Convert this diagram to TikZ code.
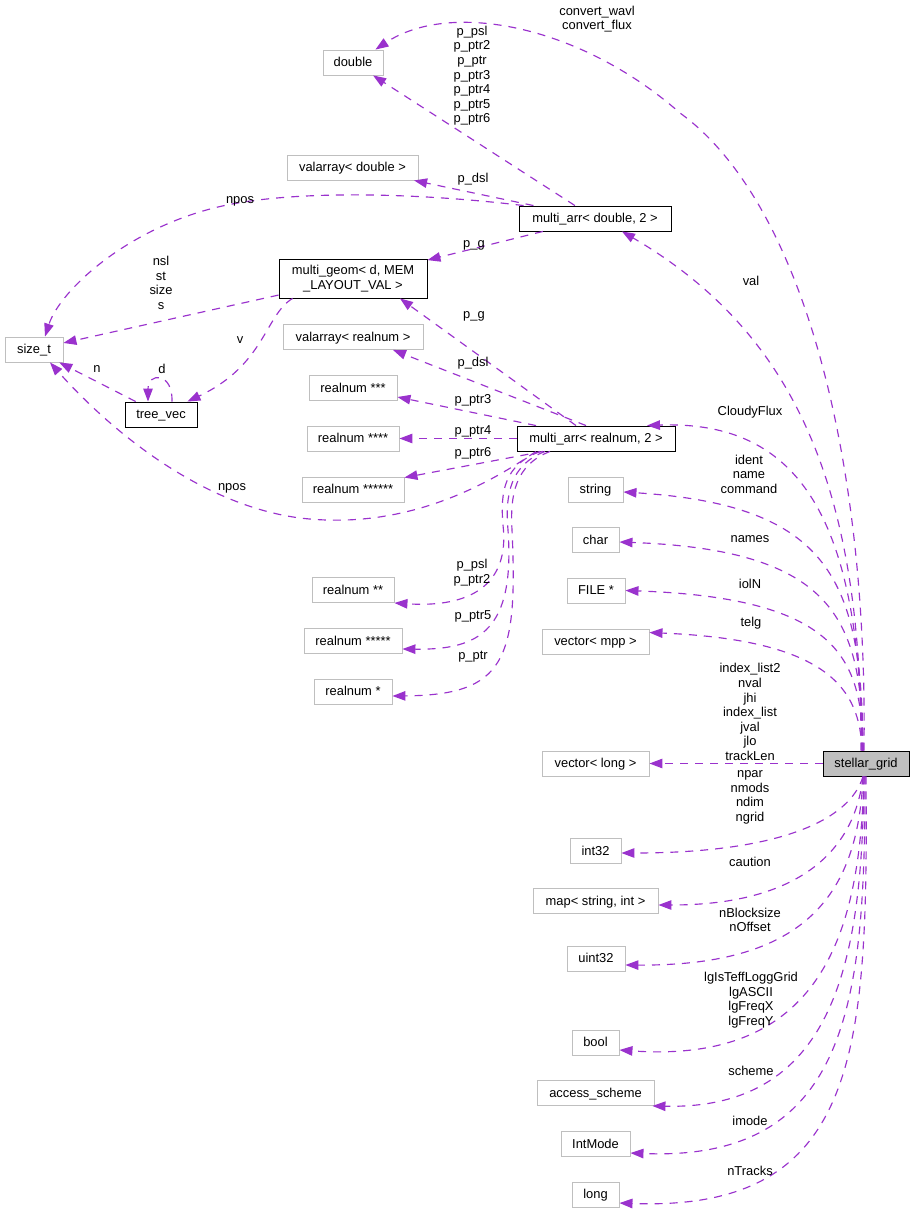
\documentclass[tikz,border=0pt]{standalone}
\usepackage{fontspec}
\setmainfont{Liberation Sans}
\usetikzlibrary{arrows.meta,calc}
\definecolor{edgec}{HTML}{9A32CD}
\definecolor{grayb}{HTML}{BFBFBF}
\begin{document}
\begin{tikzpicture}[x=1pt,y=-1pt,
  every node/.style={font=\fontsize{12.9}{14.6}\selectfont},
  box/.style={draw=grayb, line width=0.9pt, minimum height=25pt, inner sep=0pt, align=center, text height=8pt, text depth=0pt},
  dbox/.style={box, draw=black},
  sgbox/.style={dbox, fill=grayb},
  edge/.style={draw=edgec, line width=1.15pt, dash pattern=on 8pt off 7pt, -{Triangle[length=13pt,width=9.5pt,fill=edgec]}},
  lbl/.style={align=center, inner sep=0pt}]
\fill[white] (0,0) rectangle (915,1217);
\useasboundingbox (0,0) rectangle (915,1217);
% nodes
\node[box, minimum width=60pt] (dbl) at (353,62.5) {double};
\node[box, minimum width=131pt] (vad) at (352.5,167.5) {valarray< double >};
\node[dbox, minimum width=152pt] (mad) at (595,218.5) {multi\_arr< double, 2 >};
\node[draw=black, line width=0.9pt, inner sep=0pt, align=center, minimum width=148pt, minimum height=39pt] (mg) at (353,278.5) {multi\_geom< d, MEM\\\_LAYOUT\_VAL >};
\node[box, minimum width=58pt] (st) at (34,349.5) {size\_t};
\node[dbox, minimum width=72pt] (tv) at (161,414.5) {tree\_vec};
\node[box, minimum width=140pt] (var) at (353,337) {valarray< realnum >};
\node[box, minimum width=88pt] (r3) at (353,388) {realnum ***};
\node[box, minimum width=92pt] (r4) at (353,438.5) {realnum ****};
\node[dbox, minimum width=158pt] (mar) at (596,438.5) {multi\_arr< realnum, 2 >};
\node[box, minimum width=102pt] (r6) at (353,489.5) {realnum ******};
\node[box, minimum width=55pt] (str) at (595.5,489.5) {string};
\node[box, minimum width=47pt] (chr) at (595.5,540) {char};
\node[box, minimum width=58pt] (fil) at (596,590.5) {FILE *};
\node[box, minimum width=107pt] (vmpp) at (595.5,641.5) {vector< mpp >};
\node[box, minimum width=82pt] (r2) at (353,590) {realnum **};
\node[box, minimum width=98pt] (r5) at (353,641) {realnum *****};
\node[box, minimum width=78pt] (r1) at (353,691.5) {realnum *};
\node[box, minimum width=107pt] (vl) at (595.5,763.5) {vector< long >};
\node[sgbox, minimum width=86pt] (sg) at (866,763.5) {stellar\_grid};
\node[box, minimum width=51pt] (i32) at (595.5,851) {int32};
\node[box, minimum width=125pt] (map) at (595.5,901) {map< string, int >};
\node[box, minimum width=58pt] (u32) at (596,958.5) {uint32};
\node[box, minimum width=47pt] (bool) at (595.5,1042.5) {bool};
\node[box, minimum width=117pt] (acs) at (595.5,1093) {access\_scheme};
\node[box, minimum width=69pt] (imd) at (595.5,1144) {IntMode};
\node[box, minimum width=47pt] (lng) at (595.5,1194.5) {long};
% edges upper left
\draw[edge] (mad) -- (dbl);
\draw[edge] (mad) -- (vad);
\draw[edge] ($(mad.north west)+(5,0)$) .. controls (420,193) and (300,190) .. (227,205) .. controls (130,225) and (60,290) .. ($(st.north)+(11,0)$);
\draw[edge] (mad) -- (mg);
\draw[edge] (mg) -- (st);
\draw[edge] ($(mg.south west)+(14,0)$) .. controls (265,315) and (265,365) .. ($(tv.north east)+(-10,0)$);
\draw[edge] (tv) -- (st);
\draw[edge] ($(tv.north)+(11,0)$) .. controls (173,372) and (148,372) .. ($(tv.north)+(-13,0)$);
% edges from multi_arr realnum
\draw[edge] ($(mar.north)+(-20,0)$) -- ($(mg.south)+(47,0)$);
\draw[edge] ($(mar.north)+(-10,0)$) -- ($(var.south)+(40,0)$);
\draw[edge] ($(mar.north)+(-60,0)$) -- ($(r3.east)+(0,9)$);
\draw[edge] (mar) -- (r4);
\draw[edge] ($(mar.south)+(-53,0)$) -- ($(r6.north east)+(0,1)$);
\draw[edge] ($(mar.south)+(-60,0)$) .. controls (480,490) and (400,530) .. (300,518) .. controls (200,505) and (110,430) .. ($(st.south)+(16,0)$);
\draw[edge] ($(mar.south)+(-56,0)$) .. controls (505,465) and (500,490) .. (503,525) .. controls (510,585) and (470,608) .. (r2.south east);
\draw[edge] ($(mar.south)+(-51,0)$) .. controls (510,465) and (505,495) .. (508,530) .. controls (515,630) and (480,650) .. ($(r5.east)+(0,8)$);
\draw[edge] ($(mar.south)+(-46,0)$) .. controls (515,465) and (510,495) .. (512,530) .. controls (518,660) and (505,695) .. ($(r1.east)+(0,4.5)$);
% edges from stellar_grid
\draw[edge] ($(sg.north)+(-2,0)$) .. controls (868,450) and (800,200) .. (680,113) .. controls (580,25) and (450,0) .. ($(dbl.north east)+(-8,0)$);
\draw[edge] ($(sg.north)+(-5,0)$) .. controls (862,480) and (790,330) .. ($(mad.south)+(27,0)$);
\draw[edge] ($(sg.north)+(-4,0)$) .. controls (860,520) and (800,420) .. ($(mar.north)+(51,0)$);
\draw[edge] ($(sg.north)+(-3,0)$) .. controls (862,580) and (830,505) .. ($(str.east)+(0,2.5)$);
\draw[edge] ($(sg.north)+(-3,0)$) .. controls (862,620) and (835,550) .. ($(chr.east)+(0,2)$);
\draw[edge] ($(sg.north)+(-3,0)$) .. controls (862,660) and (840,598) .. (fil.east);
\draw[edge] ($(sg.north)+(-4,0)$) .. controls (860,690) and (830,640) .. ($(vmpp.north east)+(0,4)$);
\draw[edge] (sg) -- (vl);
\draw[edge] ($(sg.south)+(-3,0)$) .. controls (850,820) and (780,853) .. ($(i32.east)+(0,2)$);
\draw[edge] ($(sg.south)+(-3,0)$) .. controls (855,850) and (800,905) .. ($(map.east)+(0,4)$);
\draw[edge] ($(sg.south)+(-3,0)$) .. controls (858,900) and (800,966) .. ($(u32.east)+(0,6.5)$);
\draw[edge] ($(sg.south)+(-2,0)$) .. controls (860,920) and (830,1065) .. ($(bool.east)+(0,7.5)$);
\draw[edge] ($(sg.south)+(-2,0)$) .. controls (862,950) and (840,1110) .. ($(acs.south east)+(-2,0)$);
\draw[edge] ($(sg.south)+(-1,0)$) .. controls (865,1000) and (850,1162) .. ($(imd.east)+(0,9)$);
\draw[edge] (sg.south) .. controls (868,1050) and (860,1212) .. ($(lng.east)+(0,8.5)$);
% labels
\node[lbl] at (597,19) {convert\_wavl\\convert\_flux};
\node[lbl] at (472,75.7) {p\_psl\\p\_ptr2\\p\_ptr\\p\_ptr3\\p\_ptr4\\p\_ptr5\\p\_ptr6};
\node[lbl] at (473,179) {p\_dsl};
\node[lbl] at (240,201) {npos};
\node[lbl] at (474,245) {p\_g};
\node[lbl] at (161,283) {nsl\\st\\size\\s};
\node[lbl] at (240,340) {v};
\node[lbl] at (97,369) {n};
\node[lbl] at (162,369) {d};
\node[lbl] at (474,316) {p\_g};
\node[lbl] at (473,363) {p\_dsl};
\node[lbl] at (473,400) {p\_ptr3};
\node[lbl] at (473,431) {p\_ptr4};
\node[lbl] at (473,453) {p\_ptr6};
\node[lbl] at (232,488) {npos};
\node[lbl] at (472,572.5) {p\_psl\\p\_ptr2};
\node[lbl] at (473,616) {p\_ptr5};
\node[lbl] at (473,657) {p\_ptr};
\node[lbl] at (751,281) {val};
\node[lbl] at (750,412) {CloudyFlux};
\node[lbl] at (749,474) {ident\\name\\command};
\node[lbl] at (750,539) {names};
\node[lbl] at (750,584) {iolN};
\node[lbl] at (751,623) {telg};
\node[lbl] at (750,712) {index\_list2\\nval\\jhi\\index\_list\\jval\\jlo\\trackLen};
\node[lbl] at (750,797.5) {npar\\nmods\\ndim\\ngrid};
\node[lbl] at (750,862) {caution};
\node[lbl] at (750,920) {nBlocksize\\nOffset};
\node[lbl] at (751,1000) {lgIsTeffLoggGrid\\lgASCII\\lgFreqX\\lgFreqY};
\node[lbl] at (751,1071) {scheme};
\node[lbl] at (750,1121) {imode};
\node[lbl] at (750,1171) {nTracks};
\end{tikzpicture}
\end{document}
